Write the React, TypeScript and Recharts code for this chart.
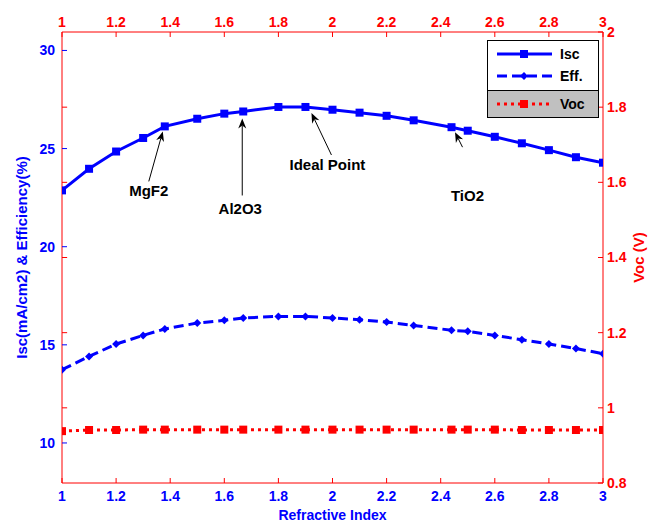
import React from "react";
import { LineChart, Line, XAxis, YAxis, Legend, ReferenceLine } from "recharts";

const FONT = '"Liberation Sans", Arial, Helvetica, sans-serif';
const BLUE = "#0000ff";
const RED = "#ff0000";

// refractive index of the AR coating (x)
const refractiveIndex = [1, 1.1, 1.2, 1.3, 1.38, 1.5, 1.6, 1.67, 1.8, 1.9, 2.0, 2.1, 2.2, 2.3, 2.44, 2.5, 2.6, 2.7, 2.8, 2.9, 3.0];
const isc = [22.87, 23.97, 24.85, 25.54, 26.13, 26.52, 26.78, 26.89, 27.12, 27.12, 26.98, 26.83, 26.67, 26.44, 26.09, 25.91, 25.6, 25.27, 24.92, 24.56, 24.28];
const efficiency = [13.73, 14.41, 15.04, 15.48, 15.81, 16.11, 16.25, 16.37, 16.45, 16.45, 16.37, 16.28, 16.16, 15.99, 15.74, 15.69, 15.48, 15.26, 15.04, 14.81, 14.55];
const voc = [0.938, 0.941, 0.941, 0.942, 0.942, 0.942, 0.942, 0.942, 0.942, 0.942, 0.942, 0.942, 0.942, 0.942, 0.942, 0.942, 0.942, 0.941, 0.941, 0.941, 0.941];

const xTicks = [1, 1.2, 1.4, 1.6, 1.8, 2, 2.2, 2.4, 2.6, 2.8, 3];
const leftTicks = [10, 15, 20, 25, 30];
const rightTicks = [0.8, 1, 1.2, 1.4, 1.6, 1.8, 2];

// annotated materials on the Isc curve
const materialNames = ["MgF2", "Al2O3", "Ideal Point", "TiO2"];
const materialIndex = [1.38, 1.67, 1.9, 2.44];

const data = refractiveIndex.map((n, i) => ({
  n,
  isc: isc[i],
  eff: efficiency[i],
  voc: voc[i],
}));

// arrow geometry per annotation: tip, tail, text offsets from the point
const arrowLayout: Record<string, number[]> = {
  MgF2: [-2, 5, -16, 55, -16, 64],
  Al2O3: [-1, 7, -1, 84, -3, 97],
  "Ideal Point": [6, 6, 26, 48, 22, 58],
  TiO2: [3.5, 5, 11, 20, 16, 68],
};

const fmt = (v: number) => String(v);

function Arrow({ x1, y1, x2, y2 }: any) {
  const dx = x2 - x1;
  const dy = y2 - y1;
  const len = Math.sqrt(dx * dx + dy * dy);
  const ux = dx / len;
  const uy = dy / len;
  const px = -uy;
  const py = ux;
  const bx = x2 - ux * 10;
  const by = y2 - uy * 10;
  const nx = x2 - ux * 7;
  const ny = y2 - uy * 7;
  return (
    <g>
      <line x1={x1} y1={y1} x2={nx} y2={ny} stroke="#000" strokeWidth={1} />
      <path
        d={`M${x2},${y2} L${bx + px * 4},${by + py * 4} L${nx},${ny} L${bx - px * 4},${by - py * 4} Z`}
        fill="#000"
      />
    </g>
  );
}

function Annotation(props: any) {
  const idx = props.index;
  if (idx == null) return null;
  const n = refractiveIndex[idx];
  const k = materialIndex.indexOf(n);
  if (k < 0) return null;
  const name = materialNames[k];
  const cx = props.viewBox?.x ?? props.x;
  const cy = props.viewBox?.y ?? props.y;
  const [tx, ty, sx, sy, lx, ly] = arrowLayout[name];
  return (
    <g>
      <Arrow x1={cx + sx} y1={cy + sy} x2={cx + tx} y2={cy + ty} />
      <text
        x={cx + lx}
        y={cy + ly}
        textAnchor="middle"
        dominantBaseline="central"
        fontFamily={FONT}
        fontWeight="bold"
        fontSize={15}
        fill="#000"
      >
        {name}
      </text>
    </g>
  );
}

function SquareDot(props: any) {
  const { cx, cy, fill, size } = props;
  if (cx == null || cy == null) return null;
  return <rect x={cx - size / 2} y={cy - size / 2} width={size} height={size} fill={fill} />;
}

function DiamondDot(props: any) {
  const { cx, cy } = props;
  if (cx == null || cy == null) return null;
  return <path d={`M${cx},${cy - 4} L${cx + 4},${cy} L${cx},${cy + 4} L${cx - 4},${cy} Z`} fill={BLUE} />;
}

function YTitle({ viewBox, text, color, dx }: any) {
  if (!viewBox) return null;
  const cx = viewBox.x + dx;
  const cy = viewBox.y + viewBox.height / 2;
  return (
    <text
      x={cx}
      y={cy}
      transform={`rotate(-90 ${cx} ${cy})`}
      textAnchor="middle"
      dominantBaseline="central"
      fontFamily={FONT}
      fontWeight="bold"
      fontSize={15}
      fill={color}
    >
      {text}
    </text>
  );
}

function XTitle({ viewBox }: any) {
  if (!viewBox) return null;
  return (
    <text
      x={viewBox.x + viewBox.width / 2}
      y={viewBox.y + 32}
      textAnchor="middle"
      dominantBaseline="central"
      fontFamily={FONT}
      fontWeight="bold"
      fontSize={14}
      fill={BLUE}
    >
      Refractive Index
    </text>
  );
}

function LegendRow({ color, dash, marker, label, top }: any) {
  return (
    <div style={{ position: "absolute", left: 0, top, height: 22, width: 110 }}>
      <svg width={70} height={22} style={{ position: "absolute", left: 0, top: 0 }}>
        <line x1={9} y1={11} x2={64} y2={11} stroke={color} strokeWidth={3} strokeDasharray={dash} />
        {marker === "square" && <rect x={32} y={7} width={8} height={8} fill={color} />}
        {marker === "diamond" && <path d="M36,7 L40,11 L36,15 L32,11 Z" fill={color} />}
      </svg>
      <span
        style={{
          position: "absolute",
          left: 72,
          top: 0,
          lineHeight: "22px",
          fontFamily: FONT,
          fontWeight: "bold",
          fontSize: 14,
          color: "#000",
        }}
      >
        {label}
      </span>
    </div>
  );
}

function LegendBox() {
  return (
    <div style={{ position: "relative", width: 112, height: 78 }}>
      <div
        style={{
          position: "absolute",
          left: 0,
          top: 0,
          width: 112,
          height: 51,
          boxSizing: "border-box",
          border: "1px solid #000",
          background: "#fff",
        }}
      >
        <LegendRow color={BLUE} marker="square" label="Isc" top={2} />
        <LegendRow color={BLUE} dash="10 5" marker="diamond" label="Eff." top={24} />
      </div>
      <div
        style={{
          position: "absolute",
          left: 0,
          top: 50,
          width: 112,
          height: 28,
          boxSizing: "border-box",
          border: "1px solid #000",
          background: "#c0c0c0",
        }}
      >
        <LegendRow color={RED} dash="3 4" marker="square" label="Voc" top={2} />
      </div>
    </div>
  );
}

export default function App() {
  const tickStyle = (fill: string) => ({ fill, fontSize: 14, fontWeight: "bold", fontFamily: FONT });
  return (
    <div style={{ position: "absolute", left: 0, top: 0, width: 659, height: 525, background: "#fff" }}>
      <LineChart width={659} height={525} data={data} margin={{ top: 0, right: 0, bottom: 0, left: 0 }}>
        <XAxis
          xAxisId="bottom"
          type="number"
          dataKey="n"
          orientation="bottom"
          domain={[1, 3]}
          ticks={xTicks}
          interval={0}
          allowDataOverflow
          height={42}
          axisLine={{ stroke: RED }}
          tickLine={{ stroke: RED }}
          tickSize={-5}
          tickMargin={13}
          tick={tickStyle(BLUE)}
          tickFormatter={fmt}
          label={<XTitle />}
        />
        <XAxis
          xAxisId="top"
          type="number"
          dataKey="n"
          orientation="top"
          domain={[1, 3]}
          ticks={xTicks}
          interval={0}
          allowDataOverflow
          height={32}
          axisLine={{ stroke: RED }}
          tickLine={{ stroke: RED }}
          tickSize={-5}
          tickMargin={10}
          tick={tickStyle(RED)}
          tickFormatter={fmt}
        />
        <YAxis
          yAxisId="left"
          orientation="left"
          type="number"
          domain={[7.96, 30.94]}
          ticks={leftTicks}
          interval={0}
          allowDataOverflow
          width={62}
          axisLine={{ stroke: RED }}
          tickLine={{ stroke: BLUE }}
          tickSize={-5}
          tickMargin={12}
          tick={tickStyle(BLUE)}
          label={<YTitle text="Isc(mA/cm2) & Efficiency(%)" color={BLUE} dx={21} />}
        />
        <YAxis
          yAxisId="right"
          orientation="right"
          type="number"
          domain={[0.8, 2]}
          ticks={rightTicks}
          interval={0}
          allowDataOverflow
          width={56}
          axisLine={{ stroke: RED }}
          tickLine={{ stroke: RED }}
          tickSize={-5}
          tickMargin={9}
          tick={tickStyle(RED)}
          tickFormatter={fmt}
          label={<YTitle text="Voc (V)" color={RED} dx={35} />}
        />
        {/* red Voc ticks repeated on the left edge, like the second axes box */}
        {rightTicks.slice(1, -1).map((v) => (
          <ReferenceLine
            key={`vt-${v}`}
            xAxisId="top"
            yAxisId="right"
            segment={[
              { x: 1, y: v },
              { x: 1.019, y: v },
            ]}
            stroke={RED}
            strokeWidth={1}
          />
        ))}
        <Legend
          layout="vertical"
          align="center"
          verticalAlign="middle"
          content={<LegendBox />}
          wrapperStyle={{ left: 487, top: 40, width: 112, height: 78 }}
        />
        <Line
          xAxisId="bottom"
          yAxisId="left"
          dataKey="eff"
          stroke={BLUE}
          strokeWidth={3}
          strokeDasharray="10 5"
          dot={<DiamondDot />}
          isAnimationActive={false}
        />
        <Line
          xAxisId="top"
          yAxisId="right"
          dataKey="voc"
          stroke={RED}
          strokeWidth={3}
          strokeDasharray="3 4"
          dot={<SquareDot fill={RED} size={8} />}
          isAnimationActive={false}
        />
        <Line
          xAxisId="bottom"
          yAxisId="left"
          dataKey="isc"
          stroke={BLUE}
          strokeWidth={3}
          dot={<SquareDot fill={BLUE} size={8} />}
          label={<Annotation />}
          isAnimationActive={false}
        />
      </LineChart>
    </div>
  );
}
